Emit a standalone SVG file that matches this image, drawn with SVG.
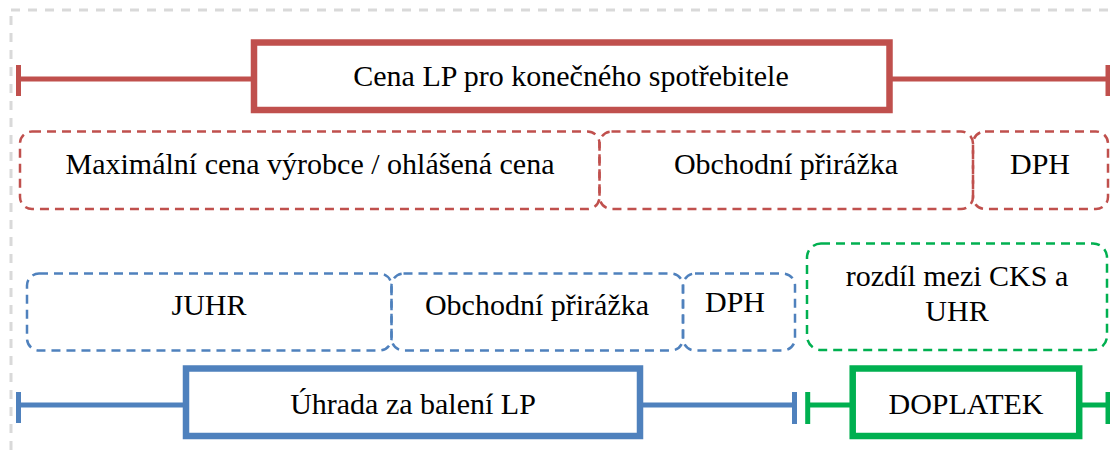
<svg xmlns="http://www.w3.org/2000/svg" width="1110" height="450" viewBox="0 0 1110 450">
<rect x="11" y="10" width="1120" height="460" fill="none" stroke="#d9d9d9" stroke-width="3" stroke-dasharray="9 8"/>
<g id="connectors" fill="none" stroke-width="5">
<g stroke="#C0504D">
<line x1="18" y1="79" x2="254" y2="79"/>
<line x1="889" y1="79" x2="1108" y2="79"/>
<line x1="18.5" y1="65" x2="18.5" y2="96"/>
<line x1="1108" y1="65" x2="1108" y2="96"/>
</g>
<g stroke="#4F81BD">
<line x1="18" y1="405" x2="186" y2="405"/>
<line x1="640" y1="405" x2="794" y2="405"/>
<line x1="18.5" y1="392" x2="18.5" y2="423"/>
<line x1="794.5" y1="392" x2="794.5" y2="424"/>
</g>
<g stroke="#00B050">
<line x1="808" y1="405" x2="853" y2="405"/>
<line x1="1079" y1="405" x2="1108" y2="405"/>
<line x1="807.7" y1="392" x2="807.7" y2="424"/>
<line x1="1108" y1="392" x2="1108" y2="424"/>
</g>
</g>
<g id="cena">
<rect x="254" y="42.5" width="635.5" height="67.5" fill="#fff" stroke="#C0504D" stroke-width="6.5"/>
<text x="571" y="86" font-family="Liberation Serif" font-size="30" text-anchor="middle">Cena LP pro konečného spotřebitele</text>
</g>
<g id="maxcena">
<rect x="20" y="131.5" width="579.5" height="77.5" rx="12" fill="none" stroke="#C0504D" stroke-width="2.5" stroke-dasharray="9 6"/>
<text x="310" y="174" font-family="Liberation Serif" font-size="30" text-anchor="middle">Maximální cena výrobce / ohlášená cena</text>
</g>
<g id="prirazka1">
<rect x="599.5" y="131.5" width="373.5" height="77.5" rx="12" fill="none" stroke="#C0504D" stroke-width="2.5" stroke-dasharray="9 6"/>
<text x="786" y="174" font-family="Liberation Serif" font-size="30" text-anchor="middle">Obchodní přirážka</text>
</g>
<g id="dph1">
<rect x="973" y="131.5" width="135" height="77.5" rx="12" fill="none" stroke="#C0504D" stroke-width="2.5" stroke-dasharray="9 6"/>
<text x="1040" y="174" font-family="Liberation Serif" font-size="30" text-anchor="middle">DPH</text>
</g>
<g id="juhr">
<rect x="27" y="273.5" width="364.5" height="77" rx="12" fill="none" stroke="#4F81BD" stroke-width="2.5" stroke-dasharray="9 6"/>
<text x="209" y="315" font-family="Liberation Serif" font-size="30" text-anchor="middle">JUHR</text>
</g>
<g id="prirazka2">
<rect x="391.5" y="273.5" width="291.5" height="77" rx="12" fill="none" stroke="#4F81BD" stroke-width="2.5" stroke-dasharray="9 6"/>
<text x="537" y="315" font-family="Liberation Serif" font-size="30" text-anchor="middle">Obchodní přirážka</text>
</g>
<g id="dph2">
<rect x="683" y="273.5" width="112" height="77" rx="12" fill="none" stroke="#4F81BD" stroke-width="2.5" stroke-dasharray="9 6"/>
<text x="735" y="312" font-family="Liberation Serif" font-size="30" text-anchor="middle">DPH</text>
</g>
<g id="rozdil">
<rect x="807" y="243.5" width="300" height="106.5" rx="14" fill="none" stroke="#00B050" stroke-width="2.5" stroke-dasharray="9 6"/>
<text x="957" y="286" font-family="Liberation Serif" font-size="30" text-anchor="middle">rozdíl mezi CKS a</text>
<text x="957" y="321" font-family="Liberation Serif" font-size="30" text-anchor="middle">UHR</text>
</g>
<g id="uhrada">
<rect x="186" y="368.5" width="454" height="67.5" fill="#fff" stroke="#4F81BD" stroke-width="6.5"/>
<text x="413" y="414" font-family="Liberation Serif" font-size="30" text-anchor="middle">Úhrada za balení LP</text>
</g>
<g id="doplatek">
<rect x="852.7" y="368.5" width="226.5" height="67.5" fill="#fff" stroke="#00B050" stroke-width="6.5"/>
<text x="966" y="414" font-family="Liberation Serif" font-size="30" text-anchor="middle">DOPLATEK</text>
</g>
</svg>
